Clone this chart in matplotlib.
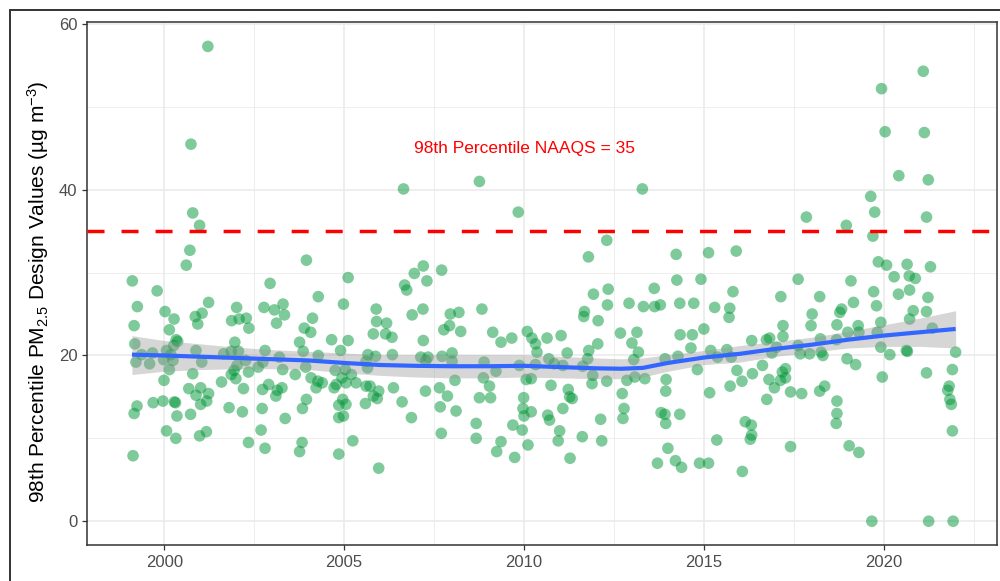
import numpy as np
import matplotlib
matplotlib.use('Agg')
import matplotlib.pyplot as plt
from matplotlib.patches import Rectangle

plt.rcParams['font.family'] = ['Liberation Sans', 'DejaVu Sans']
plt.rcParams['mathtext.fontset'] = 'custom'
plt.rcParams['mathtext.rm'] = 'Liberation Sans'
plt.rcParams['mathtext.it'] = 'Liberation Sans:italic'
plt.rcParams['mathtext.default'] = 'regular'

# design values: (year, value)
years = [
    2001.21, 2000.74, 2000.79, 2000.98, 2000.71, 2000.61, 2003.95, 1999.11, 2002.94,
    1999.80, 1999.25, 2001.23, 2000.02, 2000.27, 1999.16, 2000.14, 2000.86, 2001.05, 2000.93,
    2002.01, 2001.87, 2002.08, 2002.28, 2002.35, 2002.77, 2003.06, 2003.30, 2003.34, 2003.12,
    2004.12, 2003.89, 2004.07, 2000.37, 1999.18, 2000.26, 1999.37, 1999.67, 2000.06, 1999.21,
    1999.59, 1999.98, 2000.24, 2000.14, 2000.88, 2001.04, 2000.79, 1999.99, 2001.96, 2001.86,
    2002.06, 2001.65, 2002.26, 2002.02, 2001.94, 2001.86, 2001.99, 2001.59, 2002.34, 2002.20,
    2002.80, 2002.61, 2002.74, 2003.20, 2003.29, 2003.76, 2003.86, 2003.93, 2003.64, 2004.08,
    2002.90, 2002.73, 2003.10, 2003.14, 2003.27, 2000.68, 2001.01, 2000.88, 2001.23, 2001.18,
    2001.01, 1999.24, 1999.16, 1999.69, 1999.96, 2000.28, 2000.31, 2000.35, 2000.73, 2001.80,
    2002.17, 2002.72, 2003.36, 2003.84, 2003.95, 2000.06, 2000.32, 2000.98, 2001.17, 2002.34,
    2002.69, 2002.80, 2003.83, 2003.76, 1999.13, 2000.18, 2000.33,
    2006.65, 2008.76, 2009.84, 2005.11, 2006.95, 2007.20, 2007.71, 2007.30, 2006.68, 2006.74,
    2004.28, 2004.98, 2005.89, 2007.19, 2008.83, 2005.90, 2006.18, 2006.89, 2007.95, 2008.19,
    2007.93, 2007.77, 2008.24, 2009.13, 2009.36, 2009.66, 2010.09, 2004.65, 2005.11, 2005.81,
    2006.15, 2006.33, 2007.20, 2004.90, 2004.28, 2005.66, 2005.87, 2006.34, 2007.13, 2007.33,
    2007.72, 2008.00, 2008.00, 2007.27, 2005.61, 2005.65, 2004.75, 2005.03, 2005.20, 2004.94,
    2004.27, 2004.39, 2004.22, 2004.78, 2004.72, 2005.05, 2005.33, 2005.61, 2005.72, 2006.37,
    2005.96, 2005.81, 2005.92, 2005.59, 2004.96, 2004.85, 2005.05, 2004.85, 2004.98, 2006.61,
    2006.87, 2007.26, 2007.65, 2007.87, 2008.08, 2007.67, 2008.11, 2007.70, 2005.24, 2004.85,
    2005.96, 2008.76, 2009.07, 2008.87, 2009.04, 2008.89, 2009.22, 2009.87, 2010.06, 2009.99,
    2009.97, 2009.69, 2009.95, 2008.67, 2008.67, 2009.36, 2009.24, 2009.74, 2010.11,
    2013.29, 2012.30, 2011.79, 2014.23, 2015.13, 2015.90, 2014.25, 2014.92, 2012.34, 2011.93,
    2013.62, 2015.81, 2012.32, 2012.92, 2013.32, 2013.63, 2013.79, 2014.33, 2014.72, 2015.30,
    2015.72, 2015.70, 2011.68, 2011.66, 2012.06, 2010.22, 2010.32, 2010.64, 2011.03, 2010.36,
    2011.20, 2012.05, 2011.80, 2012.68, 2013.14, 2013.00, 2013.18, 2014.34, 2014.68, 2015.00,
    2014.64, 2015.19, 2015.64, 2014.28, 2013.92, 2015.38, 2015.76, 2010.69, 2010.84, 2011.08,
    2010.32, 2011.63, 2011.77, 2013.05, 2014.82, 2015.92, 2011.91, 2011.89, 2012.30, 2012.86,
    2013.08, 2013.36, 2013.95, 2016.06, 2015.73, 2010.20, 2010.75, 2011.23, 2011.27, 2011.34,
    2012.73, 2013.94, 2015.16, 2010.20, 2010.00, 2010.66, 2010.71, 2011.08, 2012.78, 2012.75,
    2012.13, 2013.81, 2013.92, 2013.94, 2014.33, 2010.99, 2010.95, 2011.62, 2012.16, 2011.28,
    2014.00, 2013.71, 2014.21, 2014.38, 2014.88, 2015.13, 2015.36, 2016.07, 2016.15,
    2021.10, 2019.94, 2020.04, 2021.13, 2020.42, 2021.24, 2019.64, 2019.75, 2017.85, 2021.19,
    2018.96, 2019.70, 2019.85, 2020.08, 2020.65, 2021.30, 2020.29, 2020.71, 2020.88, 2017.62,
    2019.09, 2017.14, 2018.22, 2019.72, 2020.41, 2020.72, 2021.23, 2019.16, 2019.80, 2018.01,
    2018.78, 2018.83, 2020.82, 2021.19, 2020.72, 2019.92, 2017.20, 2017.98, 2018.70, 2019.29,
    2021.35, 2019.00, 2019.31, 2019.82, 2017.20, 2016.33, 2016.74, 2016.83, 2018.24, 2018.69,
    2017.62, 2017.02, 2019.92, 2016.89, 2017.68, 2017.94, 2018.26, 2018.31, 2020.17, 2020.63,
    2020.66, 2022.00, 2018.98, 2019.22, 2016.35, 2016.63, 2017.27, 2017.18, 2017.27, 2017.13,
    2016.81, 2016.96, 2017.41, 2017.72, 2016.75, 2018.22, 2018.36, 2019.96, 2021.19, 2021.91,
    2021.82, 2021.78, 2021.84, 2021.88, 2021.91, 2018.70, 2018.70, 2018.68, 2016.32, 2016.33,
    2016.29, 2017.41, 2019.04, 2019.31, 2019.67, 2021.25, 2021.93,
]
design_values = [
    57.3, 45.5, 37.2, 35.7, 32.7, 30.9, 31.5, 29.0, 28.7,
    27.8, 25.9, 26.4, 25.3, 24.4, 23.6, 23.1, 24.7, 25.1, 23.8,
    25.8, 24.2, 24.4, 24.5, 23.3, 25.8, 25.5, 26.2, 24.9, 23.9,
    24.5, 23.3, 22.8, 21.7, 21.4, 21.2, 20.1, 20.3, 20.6, 19.2,
    19.0, 19.5, 19.4, 18.3, 20.6, 19.2, 17.8, 17.0, 21.6, 20.5,
    20.5, 20.2, 19.4, 18.8, 18.2, 17.7, 17.2, 16.8, 18.0, 16.0,
    20.6, 18.6, 19.2, 19.8, 18.3, 21.6, 20.5, 18.6, 17.7, 17.3,
    16.5, 15.9, 15.1, 15.8, 16.1, 16.0, 16.1, 15.2, 15.4, 14.5,
    14.1, 13.9, 13.0, 14.3, 14.5, 14.4, 14.3, 12.7, 12.9, 13.7,
    13.2, 13.6, 12.4, 13.6, 14.7, 10.9, 10.0, 10.3, 10.8, 9.5,
    11.0, 8.8, 9.5, 8.4, 7.9, 20.1, 21.9,
    40.1, 41.0, 37.3, 29.4, 29.9, 30.8, 30.3, 29.0, 28.5, 27.9,
    27.1, 26.2, 25.6, 25.6, 25.6, 24.1, 23.9, 24.9, 25.0, 25.2,
    23.6, 23.1, 22.9, 22.8, 21.6, 22.1, 22.9, 21.9, 21.8, 22.6,
    22.6, 22.2, 21.8, 20.6, 20.0, 20.1, 19.9, 20.1, 19.8, 19.8,
    19.9, 20.3, 19.3, 19.4, 19.3, 18.5, 18.2, 18.3, 17.7, 17.3,
    16.9, 16.7, 16.1, 16.5, 16.1, 16.7, 16.7, 16.3, 16.3, 16.1,
    15.7, 15.1, 14.8, 14.2, 14.7, 14.0, 14.1, 12.5, 12.7, 14.4,
    12.5, 15.7, 16.1, 15.1, 17.0, 13.8, 13.3, 10.6, 9.7, 8.1,
    6.4, 14.9, 14.9, 17.3, 16.3, 19.2, 18.1, 18.8, 17.1, 14.9,
    13.6, 11.6, 11.0, 11.8, 10.0, 9.6, 8.4, 7.7, 9.2,
    40.1, 33.9, 31.9, 32.2, 32.4, 32.6, 29.1, 29.2, 28.0, 27.4,
    28.1, 27.7, 26.1, 26.3, 25.9, 25.9, 26.1, 26.3, 26.3, 25.8,
    25.7, 24.6, 25.3, 24.7, 24.2, 22.1, 21.4, 22.1, 22.4, 20.4,
    20.3, 21.4, 20.6, 22.7, 22.8, 21.5, 20.4, 22.5, 22.5, 23.2,
    20.9, 20.6, 20.7, 19.9, 19.6, 19.8, 19.8, 19.6, 19.0, 18.8,
    18.9, 18.7, 19.6, 19.5, 18.3, 18.2, 17.6, 16.6, 16.9, 17.0,
    17.4, 17.2, 17.1, 16.9, 16.3, 17.2, 16.4, 15.9, 15.0, 14.8,
    15.4, 15.7, 15.5, 13.2, 12.7, 12.8, 12.2, 13.6, 13.6, 12.4,
    12.3, 13.1, 12.9, 11.8, 12.9, 10.9, 9.7, 10.2, 9.7, 7.6,
    8.8, 7.0, 7.3, 6.5, 7.0, 7.0, 9.8, 6.0, 12.0,
    54.3, 52.2, 47.0, 46.9, 41.7, 41.2, 39.2, 37.3, 36.7, 36.7,
    35.7, 34.4, 31.3, 30.9, 31.0, 30.7, 29.5, 29.6, 29.3, 29.2,
    29.0, 27.1, 27.1, 27.7, 27.4, 27.9, 27.0, 26.4, 26.0, 25.0,
    25.2, 25.6, 25.4, 25.3, 24.4, 24.0, 23.6, 23.6, 23.7, 23.6,
    23.3, 22.8, 22.8, 22.8, 22.3, 21.8, 21.9, 22.1, 22.0, 21.9,
    21.2, 21.0, 21.0, 20.3, 20.2, 20.2, 20.4, 20.0, 20.1, 20.6,
    20.5, 20.4, 19.6, 18.9, 17.8, 18.8, 18.4, 18.0, 17.3, 17.0,
    17.1, 16.1, 15.6, 15.4, 14.7, 15.7, 16.3, 17.4, 17.9, 18.3,
    16.3, 15.8, 14.7, 14.1, 10.9, 14.5, 13.0, 11.8, 11.6, 10.4,
    9.9, 9.0, 9.1, 8.3, 0.0, 0.0, 0.0,
]

# loess trend with its confidence band
fit_years = [1999.1, 2000, 2001, 2002, 2003, 2004, 2005, 2006, 2007, 2008, 2009, 2010, 2011,
             2012, 2012.7, 2013.3, 2014, 2015, 2016, 2017, 2018, 2019, 2020, 2021, 2022]
fit_mid = [20.1, 20.0, 19.85, 19.7, 19.55, 19.4, 19.1, 18.85, 18.75, 18.7, 18.7, 18.75, 18.6,
           18.45, 18.4, 18.5, 19.1, 19.75, 20.2, 20.8, 21.3, 21.9, 22.4, 22.8, 23.2]
fit_low = [17.7, 18.1, 18.3, 18.4, 18.4, 18.3, 17.9, 17.6, 17.4, 17.3, 17.3, 17.4, 17.3,
           17.2, 17.2, 17.4, 18.1, 18.9, 19.2, 19.9, 20.4, 20.9, 21.1, 21.1, 20.9]
fit_high = [22.4, 21.8, 21.4, 21.0, 20.7, 20.5, 20.3, 20.1, 20.1, 20.1, 20.1, 20.1, 19.9,
            19.7, 19.6, 19.7, 20.1, 20.6, 21.2, 21.7, 22.2, 22.9, 23.7, 24.5, 25.4]

naaqs = 35
naaqs_label = '98th Percentile NAAQS = 35'

fig = plt.figure(figsize=(10, 5.81), dpi=100)
ax = fig.add_axes([0.087, 0.062, 0.910, 0.8995])

ax.scatter(years, design_values, s=70, color=(0.0, 0.59, 0.22), alpha=0.5,
           edgecolors='none', zorder=3)
ax.fill_between(fit_years, fit_low, fit_high, color='#999999', alpha=0.4,
                linewidth=0, zorder=4)
ax.plot(fit_years, fit_mid, color='#3366FF', linewidth=3.0, zorder=5,
        solid_capstyle='butt')
ax.axhline(naaqs, color='red', linewidth=2.5, dashes=(4.9, 4.9), zorder=6)
ax.text(2010, 45, naaqs_label, color='red', fontsize=12.5, ha='center', va='center',
        zorder=7)

ax.set_xlim(1997.85, 2023.15)
ax.set_ylim(-2.87, 60.2)
ax.set_xticks([2000, 2005, 2010, 2015, 2020])
ax.set_xticks([2002.5, 2007.5, 2012.5, 2017.5, 2022.5], minor=True)
ax.set_yticks([0, 20, 40, 60])
ax.set_yticks([10, 30, 50], minor=True)
ax.grid(which='major', color='#EBEBEB', linewidth=1.2, zorder=0)
ax.grid(which='minor', color='#EBEBEB', linewidth=0.6, zorder=0)
ax.set_axisbelow(True)
ax.tick_params(which='major', length=3.5, width=0.9, color='#333333',
               labelcolor='#4D4D4D', labelsize=12, pad=3.5)
ax.tick_params(which='minor', length=0)
for sp in ax.spines.values():
    sp.set_color('#333333')
    sp.set_linewidth(1.1)

ax.set_ylabel(r'98th Percentile PM$_{2.5}$ Design Values (µg m$^{-3}$)', fontsize=15,
              color='black')
ax.yaxis.set_label_coords(-0.040, 0.485)

# outer frame around the figure
fig.patches.append(Rectangle((0.010, -0.05), 1.2, 0.05 + 1 - 10.5 / 581,
                             transform=fig.transFigure, fill=False,
                             edgecolor='#333333', linewidth=1.4))

fig.savefig('out.png', dpi=100)
